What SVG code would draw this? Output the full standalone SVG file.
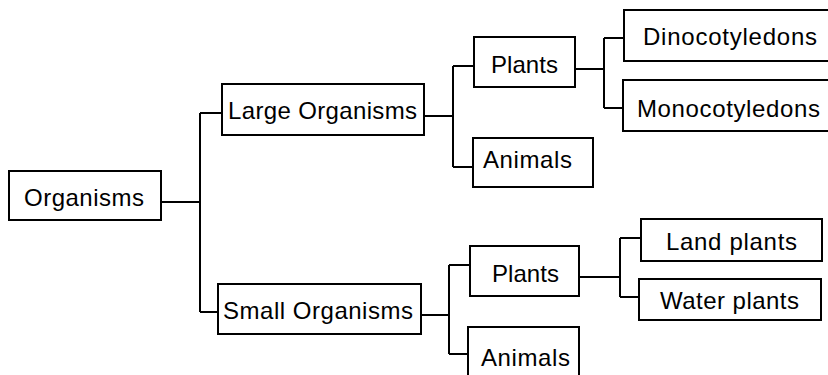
<svg xmlns="http://www.w3.org/2000/svg" width="828" height="375" viewBox="0 0 828 375">
<style>
.box{fill:#fff;stroke:#000;stroke-width:2}
.lbl{font-family:"Liberation Sans",Arial,sans-serif;font-size:24px;fill:#000}
.conn{fill:none;stroke:#000;stroke-width:2}
</style>
<rect width="828" height="375" fill="#fff"/>
<g id="connectors" class="conn">
<path d="M161,202 H200 M200,113 V312 M200,113 H222 M200,312 H218"/>
<path d="M424,116 H453 M453,66 V167 M453,66 H474 M453,167 H473"/>
<path d="M421,315 H449 M449,265 V354 M449,265 H470 M449,354 H468"/>
<path d="M575,69 H604 M604,38 V108 M604,38 H624 M604,108 H623"/>
<path d="M579,277 H620 M620,238 V297 M620,238 H641 M620,297 H639"/>
</g>
<g id="n-organisms"><rect class="box" x="9" y="171" width="152" height="49"/><text class="lbl" x="24" y="206" textLength="120" lengthAdjust="spacing">Organisms</text></g>
<g id="n-large"><rect class="box" x="222" y="84" width="202" height="51"/><text class="lbl" x="228" y="119" textLength="189" lengthAdjust="spacing">Large Organisms</text></g>
<g id="n-small"><rect class="box" x="218" y="284" width="203" height="50"/><text class="lbl" x="223" y="319" textLength="190" lengthAdjust="spacing">Small Organisms</text></g>
<g id="n-plants-large"><rect class="box" x="474" y="37" width="101" height="50"/><text class="lbl" x="491" y="73" textLength="67" lengthAdjust="spacing">Plants</text></g>
<g id="n-animals-large"><rect class="box" x="473" y="138" width="120" height="49"/><text class="lbl" x="483" y="168" textLength="89" lengthAdjust="spacing">Animals</text></g>
<g id="n-plants-small"><rect class="box" x="470" y="246" width="109" height="50"/><text class="lbl" x="492" y="282" textLength="67" lengthAdjust="spacing">Plants</text></g>
<g id="n-animals-small"><rect class="box" x="468" y="327" width="111" height="60"/><text class="lbl" x="481" y="366" textLength="89" lengthAdjust="spacing">Animals</text></g>
<g id="n-dino"><rect class="box" x="624" y="10" width="220" height="51"/><text class="lbl" x="643" y="45" textLength="174" lengthAdjust="spacing">Dinocotyledons</text></g>
<g id="n-mono"><rect class="box" x="623" y="80" width="220" height="51"/><text class="lbl" x="637" y="117" textLength="183" lengthAdjust="spacing">Monocotyledons</text></g>
<g id="n-land"><rect class="box" x="641" y="219" width="181" height="42"/><text class="lbl" x="666" y="250" textLength="131" lengthAdjust="spacing">Land plants</text></g>
<g id="n-water"><rect class="box" x="639" y="279" width="182" height="41"/><text class="lbl" x="660" y="309" textLength="139" lengthAdjust="spacing">Water plants</text></g>
</svg>
